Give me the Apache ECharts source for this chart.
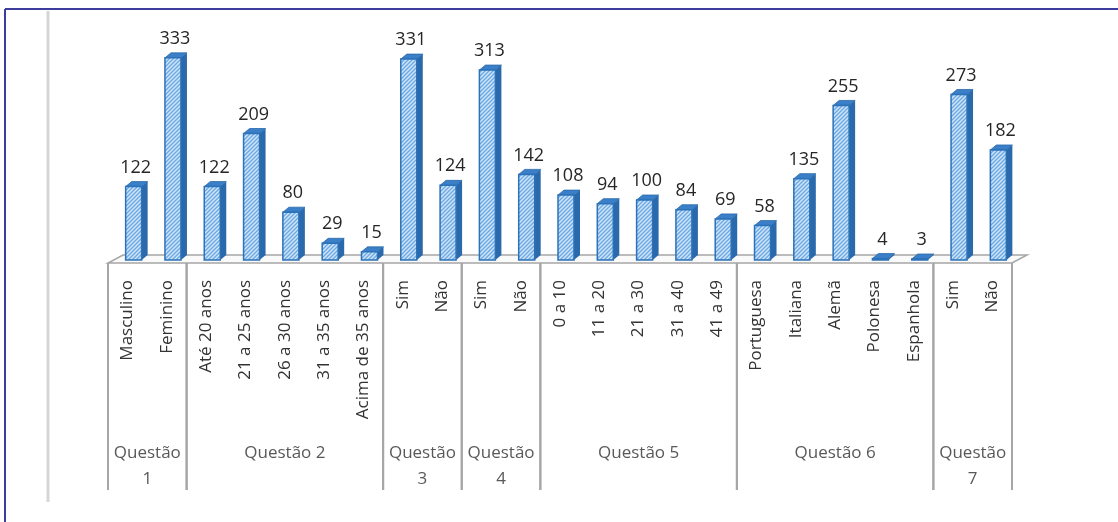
<!DOCTYPE html>
<html>
<head>
<meta charset="utf-8">
<script src="https://cdn.jsdelivr.net/npm/echarts@6/dist/echarts.min.js"></script>
<style>
html,body{margin:0;padding:0;background:#fff}
#main{width:1118px;height:522px}
</style>
</head>
<body>
<div id="main"></div>
<script>
// dados
var categorias = ['Masculino','Feminino','Até 20 anos','21 a 25 anos','26 a 30 anos','31 a 35 anos','Acima de 35 anos','Sim','Não','Sim','Não','0 a 10','11 a 20','21 a 30','31 a 40','41 a 49','Portuguesa','Italiana','Alemã','Polonesa','Espanhola','Sim','Não'];
var valores = [122,333,122,209,80,29,15,331,124,313,142,108,94,100,84,69,58,135,255,4,3,273,182];
var questoes = ['Questão\n1','Questão 2','Questão\n3','Questão\n4','Questão 5','Questão 6','Questão\n7'];
var tamanhos = [2,5,2,2,5,5,2];

var fonte = '"Open Sans", "DejaVu Sans", sans-serif';

// padrão hachurado das barras
var hatch = document.createElement('canvas');
hatch.width = 4; hatch.height = 4;
var ctx = hatch.getContext('2d');
ctx.fillStyle = '#cfe5fa';
ctx.fillRect(0, 0, 4, 4);
ctx.strokeStyle = '#6ea8e2';
ctx.lineWidth = 1.4;
ctx.beginPath();
ctx.moveTo(0, 4); ctx.lineTo(4, 0);
ctx.moveTo(-1, 1); ctx.lineTo(1, -1);
ctx.moveTo(3, 5); ctx.lineTo(5, 3);
ctx.stroke();

var dadosBarras = valores.map(function (v, i) { return [i, v]; });
var dadosGrupos = [];
var ini = 0;
tamanhos.forEach(function (t) { dadosGrupos.push([ini, ini + t - 1]); ini += t; });

var DX = 6, DY = 5, BW = 16, OFF = 6;

function barra(params, api) {
    var i = api.value(0), v = api.value(1);
    var b = api.coord([i, 0]);
    var t = api.coord([i, v]);
    var x0 = b[0] + OFF - BW / 2, x1 = x0 + BW;
    var yb = b[1] - 1, yt = Math.min(t[1], yb - 1);
    return {
        type: 'group',
        children: [
            {type: 'polygon', shape: {points: [[x1, yt], [x1 + DX, yt - DY], [x1 + DX, yb - DY], [x1, yb]]},
             style: {fill: '#2a69ab'}},
            {type: 'polygon', shape: {points: [[x0, yt], [x0 + DX, yt - DY], [x1 + DX, yt - DY], [x1, yt]]},
             style: {fill: '#3a7fc8', stroke: '#2a69ab', lineWidth: 0.8}},
            {type: 'rect', shape: {x: x0, y: yt, width: BW, height: yb - yt},
             style: {fill: {image: hatch, repeat: 'repeat'}, stroke: '#2b72b8', lineWidth: 1.5}},
            {type: 'text', style: {text: String(v), x: x0 + BW / 2 + 2, y: yt - DY - 5,
             align: 'center', verticalAlign: 'bottom', fill: '#262626', font: '18px ' + fonte}}
        ]
    };
}

function piso(params, api) {
    var w = api.size([1, 0])[0];
    var a = api.coord([0, 0]), z = api.coord([categorias.length - 1, 0]);
    var xl = a[0] - w / 2, xr = z[0] + w / 2, yf = a[1] + 2, yk = a[1] - 6;
    return {
        type: 'polygon',
        shape: {points: [[xl, yf], [xr, yf], [xr + 15, yk], [xl + 15, yk]]},
        style: {fill: '#fafafa', stroke: '#a6a6a6', lineWidth: 1.5}
    };
}

function grupo(params, api) {
    var w = api.size([1, 0])[0];
    var a = api.coord([api.value(0), 0]), z = api.coord([api.value(1), 0]);
    var xl = a[0] - w / 2, xr = z[0] + w / 2, yf = a[1] + 2;
    return {
        type: 'group',
        children: [
            {type: 'line', shape: {x1: xl, y1: yf, x2: xl, y2: 490}, style: {stroke: '#a6a6a6', lineWidth: 2}},
            {type: 'line', shape: {x1: xr, y1: yf, x2: xr, y2: 490}, style: {stroke: '#a6a6a6', lineWidth: 2}},
            {type: 'text', style: {text: questoes[params.dataIndex], x: (xl + xr) / 2, y: 440,
             align: 'center', verticalAlign: 'top', lineHeight: 26, fill: '#595959', font: '17px ' + fonte}}
        ]
    };
}

var chart = echarts.init(document.getElementById('main'));
chart.setOption({
    animation: false,
    grid: {left: 108, right: 106, top: 17, bottom: 261},
    xAxis: {
        type: 'category',
        data: categorias,
        axisLine: {show: false},
        axisTick: {show: false},
        axisLabel: {rotate: 90, interval: 0, margin: 19, fontSize: 17, color: '#333', fontFamily: fonte}
    },
    yAxis: {type: 'value', min: 0, max: 400, show: false},
    graphic: [
        {type: 'line', shape: {x1: 5, y1: 9, x2: 1118, y2: 9}, style: {stroke: '#3d3d9e', lineWidth: 2}},
        {type: 'line', shape: {x1: 5, y1: 9, x2: 5, y2: 522}, style: {stroke: '#3d3d9e', lineWidth: 2}},
        {type: 'line', shape: {x1: 48, y1: 11, x2: 48, y2: 502}, style: {stroke: '#d6d6d6', lineWidth: 3}}
    ],
    series: [
        {type: 'custom', renderItem: piso, data: [[0, 0]], z: 1, silent: true, clip: false},
        {type: 'custom', renderItem: grupo, data: dadosGrupos, z: 2, silent: true, clip: false},
        {type: 'custom', renderItem: barra, data: dadosBarras, encode: {x: 0, y: 1}, z: 3, clip: false}
    ]
});
</script>
</body>
</html>
